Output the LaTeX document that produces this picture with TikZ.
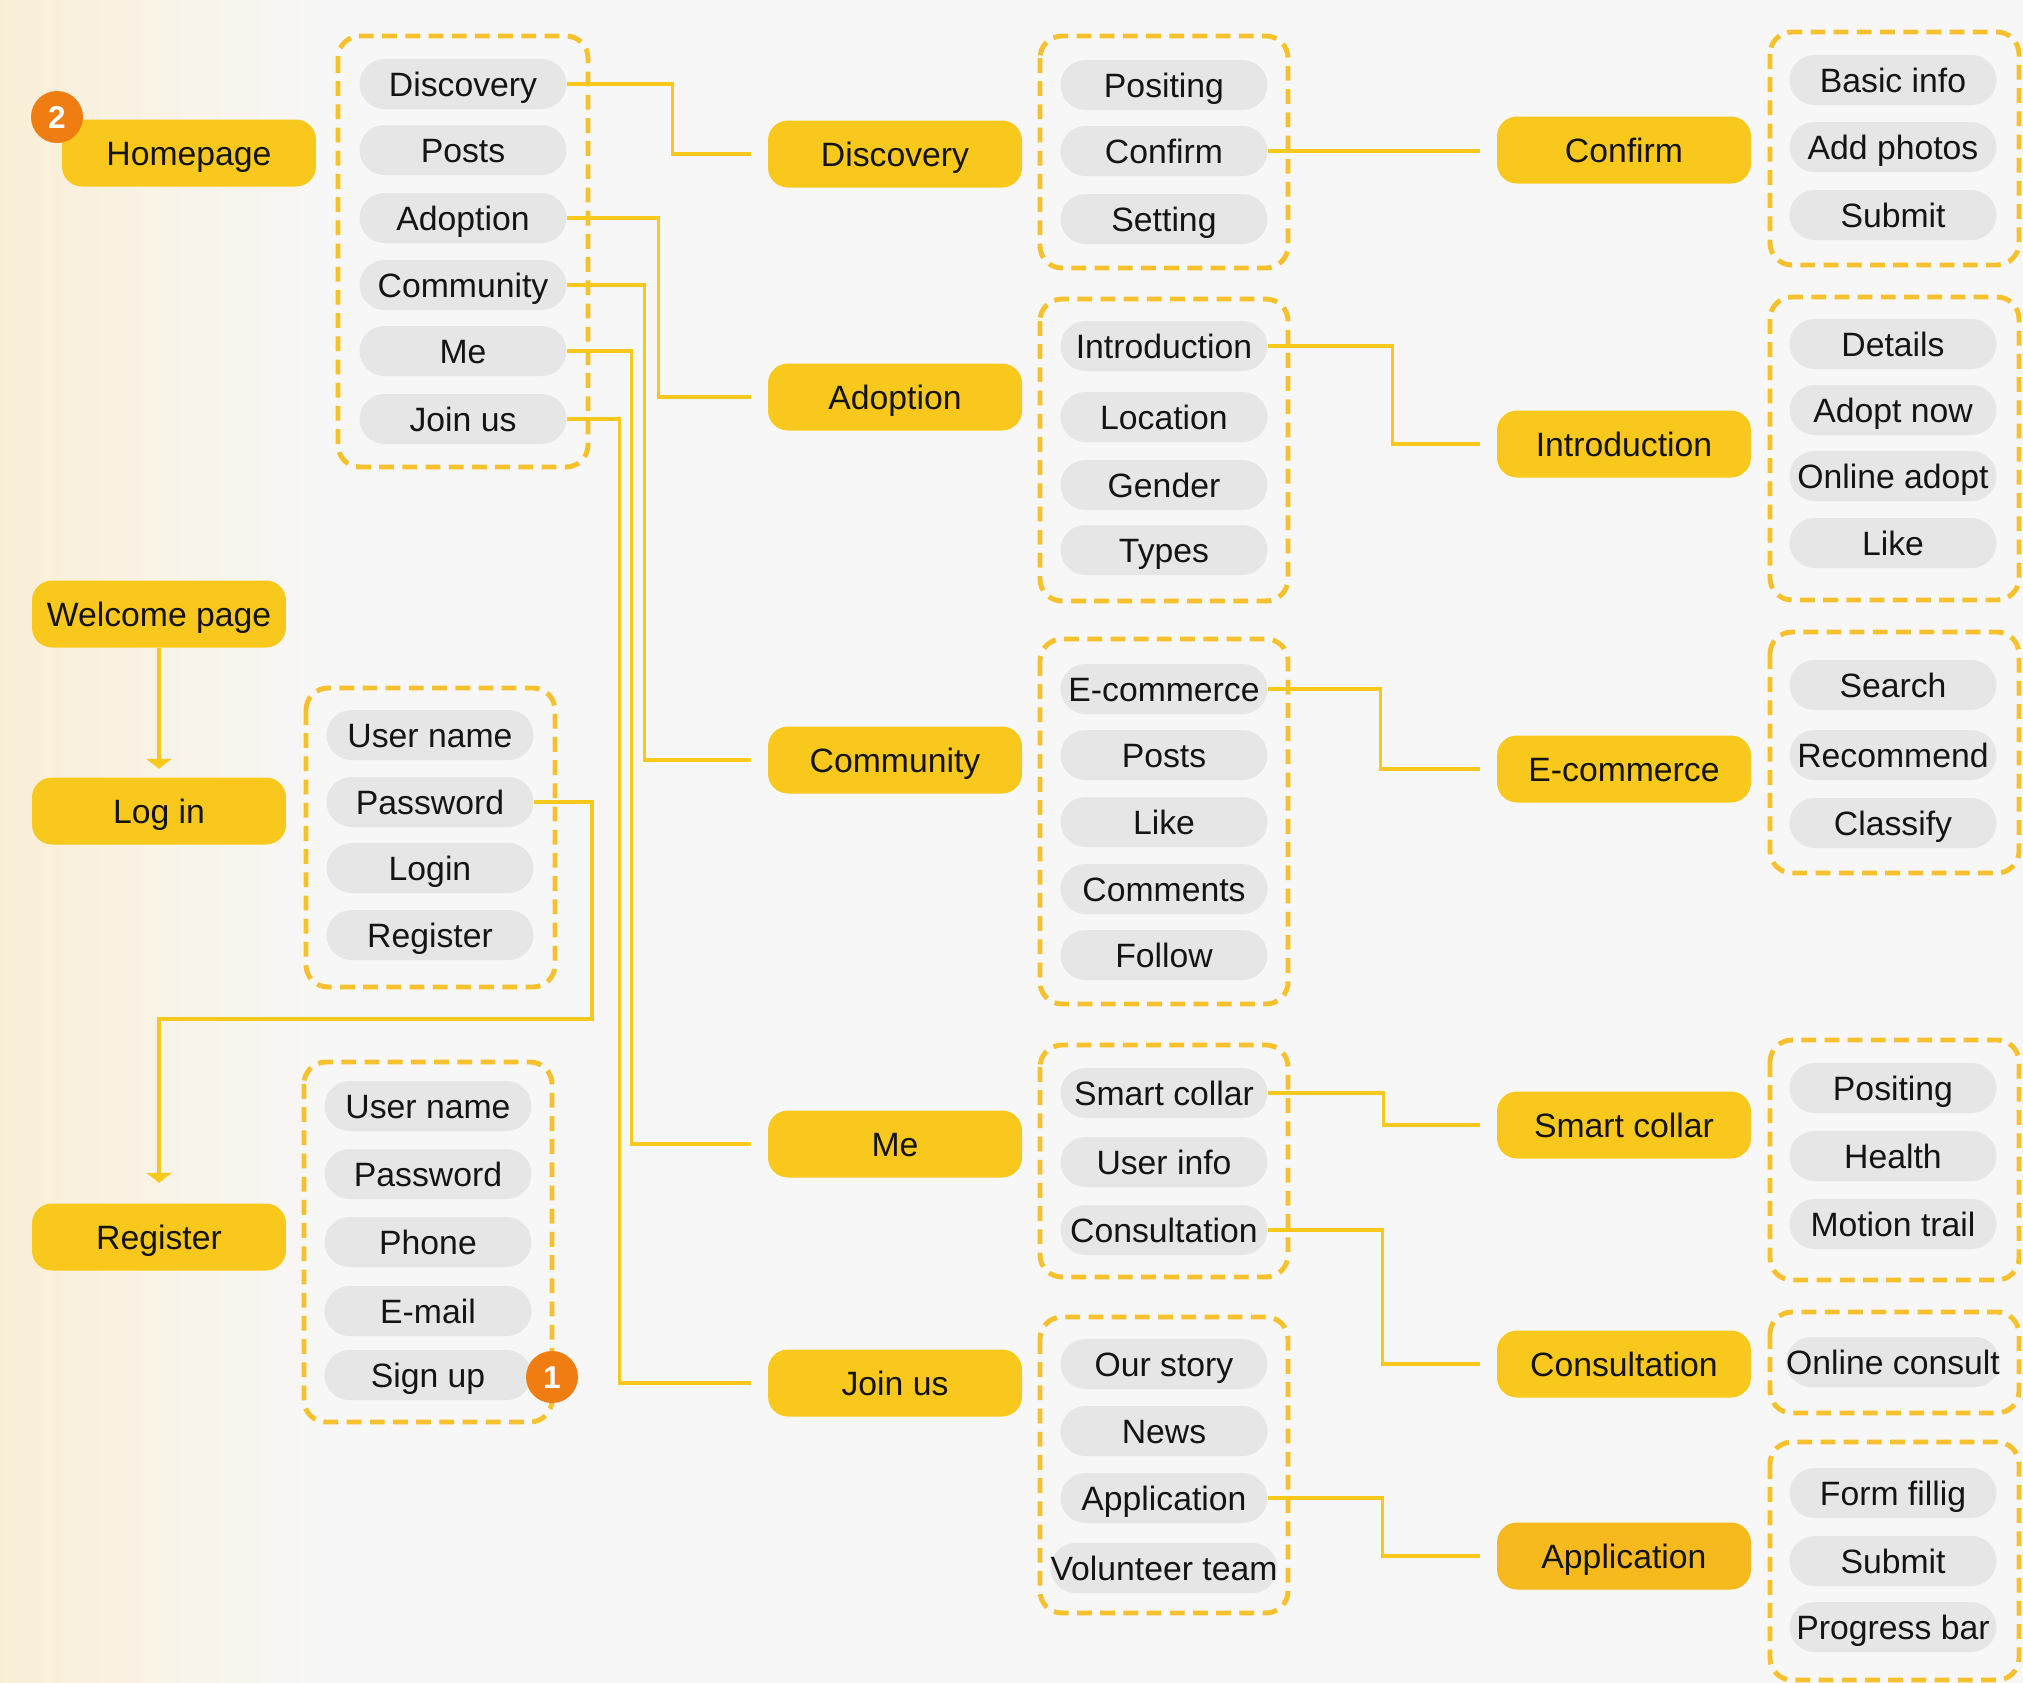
\documentclass[tikz,border=0pt]{standalone}
\usepackage{fontspec}
\setmainfont{Liberation Sans}
\usetikzlibrary{arrows.meta}
\definecolor{bg}{HTML}{F7F7F7}
\definecolor{bgy}{HTML}{FAEFD6}
\definecolor{ylw}{HTML}{F8C81C}
\definecolor{ylwd}{HTML}{F6BA1E}
\definecolor{dashc}{HTML}{F6C12C}
\definecolor{pillc}{HTML}{E6E6E6}
\definecolor{badgeo}{HTML}{F07D12}
\definecolor{txt}{HTML}{141414}
\begin{document}
\begin{tikzpicture}[x=0.1mm, y=-0.1mm,
  font=\fontsize{9.6}{11}\selectfont, text=txt,
  ybox/.style={fill=ylw, rounded corners=2mm, minimum width=25.4mm, minimum height=6.7mm, inner sep=0pt, text height=6.9pt, text depth=0pt},
  pillbox/.style={fill=pillc, rounded corners=2.5mm, minimum width=20.7mm, minimum height=5.0mm, inner sep=0pt, text height=6.9pt, text depth=0pt},
  dbox/.style={draw=dashc, line width=1.4pt, dash pattern=on 4.2pt off 2.4pt, rounded corners=2.2mm},
  conn/.style={draw=ylw, line width=0.9pt},
  arr/.style={conn, -{Triangle[width=2.5mm,length=1mm]}},
  badgec/.style={circle, fill=badgeo, minimum size=5.2mm, inner sep=0pt, text=white, text height=6.4pt, text depth=0pt, font=\fontsize{9}{10}\selectfont\bfseries}
]
\useasboundingbox (0,0) rectangle (2023,1683);
\fill[bg] (0,0) rectangle (2023,1683);
\shade[left color=bgy, right color=bg] (0,0) rectangle (320,1683);

% ---------- left column ----------
\node[ybox] (home) at (189,153) {Homepage};
\node[badgec] (b2) at (57,117) {2};
\draw[dbox] (338,36) rectangle (588,467);
\node[pillbox] (h1) at (463,84) {Discovery};
\node[pillbox] (h2) at (463,150) {Posts};
\node[pillbox] (h3) at (463,218) {Adoption};
\node[pillbox] (h4) at (463,285) {Community};
\node[pillbox] (h5) at (463,351) {Me};
\node[pillbox] (h6) at (463,419) {Join us};

\node[ybox] (wel) at (159,614) {Welcome page};
\node[ybox] (login) at (159,811) {Log in};
\node[ybox] (reg) at (159,1237) {Register};

\draw[dbox] (306,688) rectangle (555,987);
\node[pillbox] (l1) at (430,735) {User name};
\node[pillbox] (l2) at (430,802) {Password};
\node[pillbox] (l3) at (430,868) {Login};
\node[pillbox] (l4) at (430,935) {Register};

\draw[dbox] (304,1062) rectangle (552,1422);
\node[pillbox] (r1) at (428,1106) {User name};
\node[pillbox] (r2) at (428,1174) {Password};
\node[pillbox] (r3) at (428,1242) {Phone};
\node[pillbox] (r4) at (428,1311) {E-mail};
\node[pillbox] (r5) at (428,1375) {Sign up};
\node[badgec] (b1) at (552,1377) {1};

\draw[arr, shorten >=0.8mm] (wel.south) -- (login.north);
\draw[arr, shorten >=2mm] (l2.east) -| (592,1019) -| (reg.north);

% ---------- middle column ----------
\node[ybox] (mdisc) at (895,154) {Discovery};
\node[ybox] (madop) at (895,397) {Adoption};
\node[ybox] (mcomm) at (895,760) {Community};
\node[ybox] (mme) at (895,1144) {Me};
\node[ybox] (mjoin) at (895,1383) {Join us};

\draw[dbox] (1040,36) rectangle (1288,268);
\node[pillbox] (a1) at (1164,85) {Positing};
\node[pillbox] (a2) at (1164,151) {Confirm};
\node[pillbox] (a3) at (1164,219) {Setting};

\draw[dbox] (1040,299) rectangle (1288,601);
\node[pillbox] (c1) at (1164,346) {Introduction};
\node[pillbox] (c2) at (1164,417) {Location};
\node[pillbox] (c3) at (1164,485) {Gender};
\node[pillbox] (c4) at (1164,550) {Types};

\draw[dbox] (1040,639) rectangle (1288,1004);
\node[pillbox] (e1) at (1164,689) {E-commerce};
\node[pillbox] (e2) at (1164,755) {Posts};
\node[pillbox] (e3) at (1164,822) {Like};
\node[pillbox] (e4) at (1164,889) {Comments};
\node[pillbox] (e5) at (1164,955) {Follow};

\draw[dbox] (1040,1045) rectangle (1288,1277);
\node[pillbox] (m1) at (1164,1093) {Smart collar};
\node[pillbox] (m2) at (1164,1162) {User info};
\node[pillbox] (m3) at (1164,1230) {Consultation};

\draw[dbox] (1040,1317) rectangle (1288,1613);
\node[pillbox] (j1) at (1164,1364) {Our story};
\node[pillbox] (j2) at (1164,1431) {News};
\node[pillbox] (j3) at (1164,1498) {Application};
\node[pillbox] (j4) at (1164,1568) {Volunteer team};

\draw[conn, shorten >=1.6mm] (h1.east) -- ++(105,0) |- (mdisc.west);
\draw[conn, shorten >=1.6mm] (h3.east) -- ++(91,0) |- (madop.west);
\draw[conn, shorten >=1.6mm] (h4.east) -- ++(77,0) |- (mcomm.west);
\draw[conn, shorten >=1.6mm] (h5.east) -- ++(64,0) |- (mme.west);
\draw[conn, shorten >=1.6mm] (h6.east) -- ++(52,0) |- (mjoin.west);

% ---------- right column ----------
\node[ybox] (rconf) at (1624,150) {Confirm};
\node[ybox] (rintro) at (1624,444) {Introduction};
\node[ybox] (recom) at (1624,769) {E-commerce};
\node[ybox] (rsmart) at (1624,1125) {Smart collar};
\node[ybox] (rcons) at (1624,1364) {Consultation};
\node[ybox, fill=ylwd] (rapp) at (1624,1556) {Application};

\draw[dbox] (1770,32) rectangle (2019,265);
\node[pillbox] (p1) at (1893,80) {Basic info};
\node[pillbox] (p2) at (1893,147) {Add photos};
\node[pillbox] (p3) at (1893,215) {Submit};

\draw[dbox] (1770,297) rectangle (2019,600);
\node[pillbox] (q1) at (1893,344) {Details};
\node[pillbox] (q2) at (1893,410) {Adopt now};
\node[pillbox] (q3) at (1893,476) {Online adopt};
\node[pillbox] (q4) at (1893,543) {Like};

\draw[dbox] (1770,632) rectangle (2019,873);
\node[pillbox] (s1) at (1893,685) {Search};
\node[pillbox] (s2) at (1893,755) {Recommend};
\node[pillbox] (s3) at (1893,823) {Classify};

\draw[dbox] (1770,1040) rectangle (2019,1280);
\node[pillbox] (t1) at (1893,1088) {Positing};
\node[pillbox] (t2) at (1893,1156) {Health};
\node[pillbox] (t3) at (1893,1224) {Motion trail};

\draw[dbox] (1770,1312) rectangle (2019,1413);
\node[pillbox] (u1) at (1893,1362) {Online consult};

\draw[dbox] (1770,1442) rectangle (2019,1680);
\node[pillbox] (v1) at (1893,1493) {Form fillig};
\node[pillbox] (v2) at (1893,1561) {Submit};
\node[pillbox] (v3) at (1893,1627) {Progress bar};

\draw[conn, shorten >=1.6mm] (a2.east) -- (a2.east -| rconf.west);
\draw[conn, shorten >=1.6mm] (c1.east) -- ++(124,0) |- (rintro.west);
\draw[conn, shorten >=1.6mm] (e1.east) -- ++(112,0) |- (recom.west);
\draw[conn, shorten >=1.6mm] (m1.east) -- ++(115,0) |- (rsmart.west);
\draw[conn, shorten >=1.6mm] (m3.east) -- ++(114,0) |- (rcons.west);
\draw[conn, shorten >=1.6mm] (j3.east) -- ++(114,0) |- (rapp.west);
\end{tikzpicture}
\end{document}
